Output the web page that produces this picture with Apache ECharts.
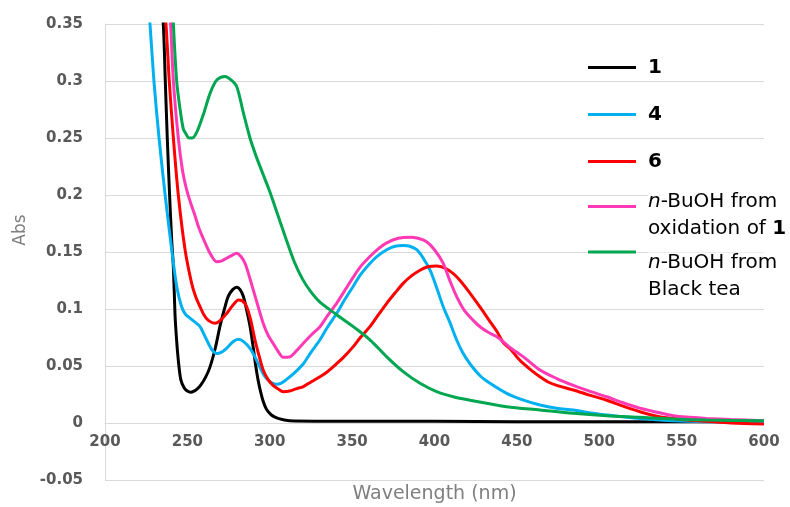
<!DOCTYPE html>
<html>
<head>
<meta charset="utf-8">
<script src="https://cdn.jsdelivr.net/npm/echarts@6/dist/echarts.min.js"></script>
<style>html,body{margin:0;padding:0;background:#fff}#c{width:790px;height:507px}</style>
</head>
<body>
<div id="c"></div>
<script>
// ---- Data ----
const xTicks = [200, 250, 300, 350, 400, 450, 500, 550, 600];
const yTicks = [-0.05, 0, 0.05, 0.1, 0.15, 0.2, 0.25, 0.3, 0.35];

const seriesNames = ['1', '4', '6', 'n-BuOH from oxidation of 1', 'n-BuOH from Black tea'];

const wl1 = [233,235.4,236.6,237.8,239.2,240.5,241.5,242.5,243.5,244.5,246,248,250,252,254,256,258,261,263.7,267,269.8,272.5,274.8,277.5,280,282,284,286,288,290,291.5,293,294.5,296,298,301,305,312,350,400,450,500,550,600];
const abs1 = [0.40,0.35,0.30,0.25,0.20,0.16,0.137,0.095,0.072,0.055,0.038,0.031,0.028,0.027,0.028,0.030,0.033,0.040,0.049,0.066,0.085,0.100,0.111,0.117,0.119,0.117,0.111,0.099,0.085,0.066,0.050,0.037,0.027,0.019,0.012,0.007,0.004,0.002,0.0015,0.0015,0.001,0.001,0.001,0.001];

const wl4 = [225,227.3,229.7,232.8,236.5,240.5,243.5,246.5,249,251.6,255,257.7,260,262.7,265,267.8,270.5,273.8,277.5,281,284.5,288,291,294,296.5,299,301.5,304.2,307,310,315,320.4,325,330.5,335,340.6,345,350.7,355,360.8,365,371,376,381,385,389.2,393,397.3,401,405.3,409.4,413.4,417,421.5,428,433.7,443.8,454,464,474,484.3,494,504.5,514,524.7,545,565,600];
const abs4 = [0.39,0.35,0.30,0.25,0.20,0.152,0.12,0.102,0.095,0.092,0.088,0.0845,0.078,0.070,0.064,0.061,0.062,0.0655,0.071,0.0734,0.071,0.0655,0.058,0.049,0.042,0.0377,0.035,0.034,0.035,0.038,0.044,0.052,0.062,0.073,0.084,0.096,0.107,0.120,0.130,0.140,0.146,0.152,0.155,0.1556,0.155,0.152,0.145,0.134,0.120,0.102,0.088,0.073,0.062,0.052,0.041,0.0348,0.026,0.020,0.0158,0.013,0.0114,0.009,0.007,0.0055,0.004,0.002,0.0012,0.001];

const wl6 = [234.5,237,239,241.5,244.5,248.6,252.6,255,257.7,260,262.7,266.8,270,273.8,277.5,281,283.5,286,288.5,291,293.5,296,299,302,305,308.2,312,316,320.4,325,330.5,335,340.6,345,350.7,355,360.8,366,371,376,381,386,391.2,396,401.3,406,411.4,415.5,421.5,428,433.7,438,442,446,450,454,459,464,469,474.2,484.3,494,504.5,514,524.7,535,545,555,565,580,600];
const abs6 = [0.39,0.35,0.30,0.25,0.20,0.152,0.1225,0.111,0.102,0.095,0.090,0.0875,0.090,0.096,0.103,0.108,0.107,0.102,0.090,0.073,0.059,0.0465,0.038,0.033,0.030,0.0275,0.028,0.030,0.032,0.036,0.0406,0.045,0.052,0.058,0.067,0.075,0.0845,0.095,0.105,0.114,0.1225,0.129,0.134,0.137,0.1377,0.136,0.131,0.125,0.114,0.101,0.089,0.080,0.070,0.065,0.058,0.052,0.046,0.0406,0.036,0.033,0.029,0.0245,0.020,0.015,0.0099,0.006,0.004,0.0025,0.0015,0.0,-0.0008];

const wlOx = [237,239.8,241.5,244.5,247,249.5,252,254.6,257,261.7,264.5,267.8,270.5,273.8,277,280,282.5,285,287.5,290,293,296,299,302,305,308.2,312,316,320.4,325,330.5,335,340.6,345,350.7,355,360.8,366,371,378,385,390,395.2,400,405.3,409,413.4,418,423.5,428,433.7,438,442,446,450,454,464,474.2,484.3,494,504.5,514,524.7,535,545,555,565,580,600];
const absOx = [0.40,0.35,0.30,0.25,0.222,0.205,0.193,0.182,0.171,0.155,0.147,0.1415,0.142,0.1445,0.147,0.149,0.146,0.140,0.129,0.1167,0.102,0.0875,0.077,0.070,0.063,0.0576,0.058,0.063,0.070,0.077,0.0845,0.094,0.105,0.115,0.128,0.137,0.146,0.153,0.158,0.162,0.163,0.162,0.159,0.152,0.140,0.126,0.111,0.099,0.090,0.084,0.0787,0.0755,0.071,0.066,0.062,0.058,0.0465,0.039,0.033,0.028,0.023,0.018,0.013,0.0095,0.0064,0.005,0.004,0.003,0.002];

const wlTea = [240,241.5,243.5,245.5,247.5,249,251,253,256,260,264,268,272.8,276.5,280,284,288,292,296,300,305,310,315,320,325,330.5,340.6,350.7,360.8,371,381,391.2,401.3,411.4,421.5,443.8,464,484.3,504.5,524.7,545,565,600];
const absTea = [0.40,0.35,0.30,0.276,0.258,0.254,0.250,0.250,0.256,0.272,0.290,0.301,0.304,0.301,0.295,0.272,0.250,0.233,0.218,0.203,0.182,0.161,0.141,0.126,0.115,0.106,0.095,0.0845,0.073,0.058,0.045,0.0348,0.0275,0.023,0.020,0.0143,0.0114,0.0085,0.0064,0.005,0.0035,0.0026,0.002];

const xs = [wl1, wl4, wl6, wlOx, wlTea];
const ys = [abs1, abs4, abs6, absOx, absTea];
const colors = ['#000000', '#00B0F0', '#FF0000', '#FF3AB4', '#00A650'];

const zip = (a, b) => a.map((v, i) => [v, b[i]]);

const FONT = 'DejaVu Sans';
const rich = {
  b: { fontFamily: FONT, fontSize: 20, fontWeight: 'bold', color: '#000', lineHeight: 27, backgroundColor: '#fff' },
  i: { fontFamily: FONT, fontSize: 20, fontStyle: 'italic', color: '#000', lineHeight: 27, backgroundColor: '#fff' },
  r: { fontFamily: FONT, fontSize: 20, color: '#000', lineHeight: 27, backgroundColor: '#fff' }
};
const legendFormats = [
  '{b|1}', '{b|4}', '{b|6}',
  '{i|n}{r|-BuOH from}\n{r|oxidation of }{b|1}',
  '{i|n}{r|-BuOH from}\n{r|Black tea}'
];
const legendTops = [54, 101, 148, 171, 201];
const legendPadTop = [0, 0, 0, 17, 48];

const legends = seriesNames.map((n, k) => ({
  data: [n],
  left: 588,
  top: legendTops[k],
  orient: 'vertical',
  icon: 'rect',
  itemWidth: 48,
  itemHeight: 3,
  padding: 0,
  selectedMode: false,
  formatter: () => legendFormats[k],
  textStyle: {
    fontFamily: FONT, fontSize: 20, color: '#000',
    padding: [legendPadTop[k], 0, 0, 7],
    lineHeight: 27,
    rich: rich
  }
}));

const chart = echarts.init(document.getElementById('c'), null, { renderer: 'canvas' });
chart.setOption({
  animation: false,
  backgroundColor: '#fff',
  grid: { left: 105, right: 26, top: 24, bottom: 27, containLabel: false, outerBoundsMode: 'none' },
  legend: legends,
  xAxis: {
    type: 'value',
    position: 'bottom',
    offset: -57,
    min: xTicks[0], max: xTicks[xTicks.length - 1], interval: 50,
    name: 'Wavelength (nm)', nameLocation: 'middle', nameGap: 62,
    nameTextStyle: { fontFamily: FONT, fontSize: 19, color: '#7f7f7f' },
    axisLine: { show: true, onZero: false, lineStyle: { color: '#d9d9d9', width: 1 } },
    axisTick: { show: false },
    splitLine: { show: false },
    axisLabel: { fontFamily: FONT, fontSize: 15, fontWeight: 'bold', color: '#595959', margin: 12 }
  },
  yAxis: {
    type: 'value',
    min: yTicks[0], max: yTicks[yTicks.length - 1], interval: 0.05,
    name: 'Abs', nameLocation: 'middle', nameGap: 68,
    nameTextStyle: { fontFamily: FONT, fontSize: 17, color: '#7f7f7f', padding: [0, 0, 0, 44] },
    axisLine: { show: true, onZero: false, lineStyle: { color: '#d9d9d9', width: 1 } },
    axisTick: { show: false },
    splitLine: { show: true, lineStyle: { color: '#d9d9d9', width: 1 } },
    axisLabel: { fontFamily: FONT, fontSize: 15, fontWeight: 'bold', color: '#595959', margin: 22,
      formatter: v => String(Math.round(v * 100) / 100) }
  },
  series: seriesNames.map((n, k) => ({
    name: n,
    type: 'line',
    data: zip(xs[k], ys[k]),
    showSymbol: false,
    smooth: 0.3,
    clip: true,
    color: colors[k],
    lineStyle: { color: colors[k], width: 3 },
    z: 2 + k
  }))
});
</script>
</body>
</html>
